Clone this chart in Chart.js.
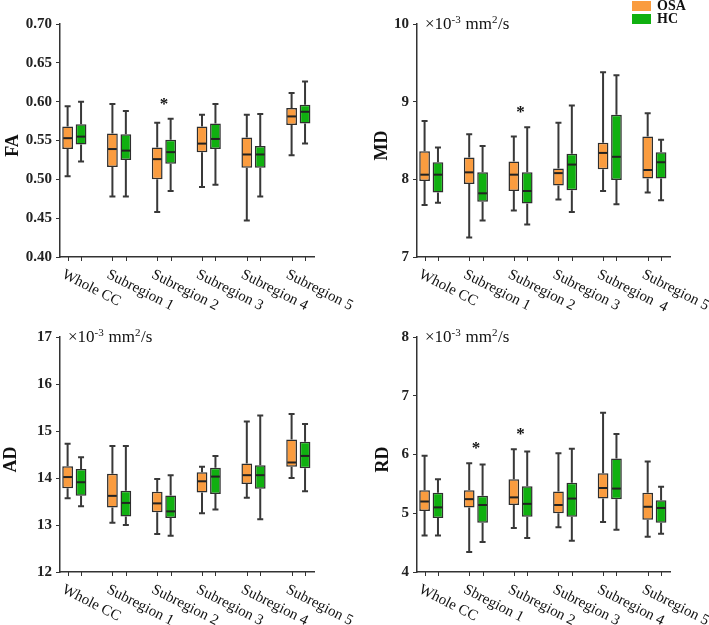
<!DOCTYPE html>
<html><head><meta charset="utf-8">
<script src="https://cdn.jsdelivr.net/npm/chart.js@4/dist/chart.umd.min.js"></script>
<style>
html,body{margin:0;padding:0;background:#fff;}
#wrap{position:relative;width:709px;height:625px;overflow:hidden;background:#fff;}
canvas{position:absolute;}
.lgt{position:absolute;font:bold 14px "Liberation Serif","Times New Roman",serif;color:#111;line-height:14px;}
.sw{position:absolute;width:19px;}
</style></head><body>
<div id="wrap">
<canvas id="cAD" width="370" height="315" style="left:0;top:310px"></canvas>
<canvas id="cRD" width="355" height="315" style="left:354px;top:310px"></canvas>
<canvas id="cFA" width="370" height="330" style="left:0;top:0"></canvas>
<canvas id="cMD" width="355" height="330" style="left:354px;top:0"></canvas>
</div>
<script>
// ---------- data ----------
const seriesNames = ['OSA', 'HC'];
const seriesColors = ['#FA9C3F', '#10B010'];

const catsFA = ['Whole CC', 'Subregion 1', 'Subregion 2', 'Subregion 3', 'Subregion 4', 'Subregion 5'];
const catsMD = ['Whole CC', 'Subregion 1', 'Subregion 2', 'Subregion 3', 'Subregion  4', 'Subregion 5'];
const catsAD = ['Whole CC', 'Subregion 1', 'Subregion 2', 'Subregion 3', 'Subregion 4', 'Subregion 5'];
const catsRD = ['Whole CC', 'Sbregion 1', 'Subregion 2', 'Subregion 3', 'Subregion 4', 'Subregion 5'];

// each entry: [min, q1, median, q3, max]
const faOSA = [[0.504,0.539,0.553,0.568,0.594],[0.478,0.516,0.539,0.559,0.597],[0.458,0.500,0.526,0.541,0.573],[0.490,0.535,0.546,0.568,0.583],[0.447,0.515,0.532,0.554,0.583],[0.531,0.570,0.581,0.592,0.611]];
const faHC  = [[0.523,0.545,0.555,0.571,0.600],[0.478,0.525,0.537,0.558,0.588],[0.485,0.520,0.535,0.551,0.578],[0.493,0.539,0.552,0.572,0.597],[0.478,0.515,0.532,0.543,0.584],[0.546,0.572,0.587,0.596,0.626]];
const mdOSA = [[7.67,7.98,8.06,8.36,8.75],[7.25,7.94,8.09,8.28,8.58],[7.60,7.85,8.06,8.23,8.55],[7.74,7.92,8.08,8.14,8.73],[7.85,8.13,8.34,8.47,9.38],[7.83,8.01,8.12,8.55,8.85]];
const mdHC  = [[7.70,7.83,8.06,8.22,8.41],[7.47,7.71,7.82,8.09,8.43],[7.42,7.69,7.85,8.09,8.67],[7.58,7.86,8.19,8.33,8.95],[7.68,7.99,8.29,8.83,9.34],[7.73,8.01,8.22,8.35,8.51]];
const adOSA = [[13.57,13.78,14.02,14.25,14.73],[13.05,13.37,13.62,14.09,14.68],[12.81,13.27,13.46,13.71,13.98],[13.25,13.69,13.93,14.12,14.24],[13.58,13.87,14.06,14.31,15.20],[14.00,14.24,14.33,14.82,15.36]];
const adHC  = [[13.40,13.62,13.91,14.19,14.44],[13.00,13.18,13.47,13.73,14.68],[12.77,13.15,13.29,13.63,14.06],[13.33,13.66,14.03,14.22,14.47],[13.12,13.77,14.06,14.27,15.33],[13.72,14.21,14.47,14.77,15.15]];
const rdOSA = [[4.62,5.04,5.20,5.39,5.98],[4.34,5.10,5.24,5.39,5.85],[4.75,5.14,5.27,5.58,6.09],[4.76,5.00,5.14,5.37,6.02],[4.85,5.25,5.43,5.68,6.71],[4.60,4.89,5.11,5.35,5.88]];
const rdHC  = [[4.62,4.92,5.10,5.35,5.58],[4.51,4.84,5.14,5.30,5.83],[4.58,4.94,5.16,5.46,6.05],[4.53,4.94,5.25,5.52,6.10],[4.72,5.24,5.42,5.93,6.35],[4.65,4.84,5.09,5.22,5.45]];

const ticksFA = [0.40, 0.45, 0.50, 0.55, 0.60, 0.65, 0.70];
const ticksMD = [7, 8, 9, 10];
const ticksAD = [12, 13, 14, 15, 16, 17];
const ticksRD = [4, 5, 6, 7, 8];

// categories marked with * (significant difference)
const sigFA = [2];
const sigMD = [2];
const sigAD = [];
const sigRD = [1, 2];

// ---------- drawing ----------
const SERIF = '"Liberation Serif","Times New Roman",serif';
Chart.defaults.font.family = SERIF;
Chart.defaults.color = '#222';

const boxPlugin = {
  id: 'boxParts',
  afterDatasetsDraw(chart) {
    const ys = chart.scales.y, ctx = chart.ctx;
    ctx.save();
    chart.data.datasets.forEach((ds, di) => {
      const meta = chart.getDatasetMeta(di);
      meta.data.forEach((bar, i) => {
        const s = ds.stats[i];
        const x = bar.x, hw = bar.width / 2;
        const pMin = ys.getPixelForValue(s[0]), pQ1 = ys.getPixelForValue(s[1]);
        const pMed = ys.getPixelForValue(s[2]), pQ3 = ys.getPixelForValue(s[3]);
        const pMax = ys.getPixelForValue(s[4]);
        ctx.strokeStyle = '#383838';
        ctx.lineWidth = 2;
        ctx.beginPath();
        ctx.moveTo(x, pQ3); ctx.lineTo(x, pMax);
        ctx.moveTo(x, pQ1); ctx.lineTo(x, pMin);
        ctx.moveTo(x - 3, pMax); ctx.lineTo(x + 3, pMax);
        ctx.moveTo(x - 3, pMin); ctx.lineTo(x + 3, pMin);
        ctx.stroke();
        ctx.strokeStyle = '#222';
        ctx.beginPath();
        ctx.moveTo(x - hw + 1, pMed); ctx.lineTo(x + hw - 1, pMed);
        ctx.stroke();
      });
    });
    ctx.restore();
  },
  afterDraw(chart) {
    const ctx = chart.ctx, xs = chart.scales.x, ys = chart.scales.y;
    const area = chart.chartArea;
    const o = chart.options.plugins.panel;
    ctx.save();
    // tick marks under each box
    ctx.strokeStyle = '#333'; ctx.lineWidth = 1;
    chart.data.datasets.forEach((ds, di) => {
      chart.getDatasetMeta(di).data.forEach(bar => {
        const xx = Math.round(bar.x) + 0.5;
        ctx.beginPath(); ctx.moveTo(xx, area.bottom); ctx.lineTo(xx, area.bottom + 4); ctx.stroke();
      });
    });
    // rotated category labels
    ctx.fillStyle = '#111';
    ctx.font = '15px ' + SERIF;
    ctx.textAlign = 'left'; ctx.textBaseline = 'top';
    o.cats.forEach((lab, i) => {
      ctx.save();
      ctx.translate(xs.getPixelForValue(i) - 8, area.bottom + 10);
      ctx.rotate(27 * Math.PI / 180);
      ctx.fillText(lab, 0, 0);
      ctx.restore();
    });
    // y axis title
    ctx.save();
    ctx.font = 'bold 18px ' + SERIF;
    ctx.textAlign = 'center'; ctx.textBaseline = 'middle';
    ctx.translate(o.titleX, (area.top + area.bottom) / 2 + 5);
    ctx.rotate(-Math.PI / 2);
    ctx.fillText(o.title, 0, 0);
    ctx.restore();
    // significance asterisks
    ctx.font = 'bold 17px ' + SERIF;
    ctx.textAlign = 'center'; ctx.textBaseline = 'alphabetic';
    o.sig.forEach(i => {
      let top = Infinity;
      chart.data.datasets.forEach(ds => { top = Math.min(top, ys.getPixelForValue(ds.stats[i][4])); });
      ctx.fillText('*', xs.getPixelForValue(i), top - 10);
    });
    // unit label
    if (o.unit) {
      let x = area.left + 8;
      const base = area.top + 5;
      const parts = [['\u00d710', 0], ['-3', 1], [' mm', 0], ['2', 1], ['/s', 0]];
      ctx.textAlign = 'left';
      parts.forEach(([t, sup]) => {
        ctx.font = (sup ? '11px ' : '17px ') + SERIF;
        ctx.fillText(t, x, sup ? base - 6 : base);
        x += ctx.measureText(t).width + (sup ? 0.5 : 0);
      });
    }
    ctx.restore();
  }
};

function makePanel(id, cfg) {
  const datasets = [cfg.osa, cfg.hc].map((stats, k) => ({
    label: seriesNames[k],
    data: stats.map((s, i) => ({ x: i, y: [s[1], s[3]] })),
    stats: stats,
    backgroundColor: seriesColors[k],
    borderColor: '#2e2e2e',
    borderWidth: 1.5,
    borderSkipped: false,
    categoryPercentage: 0.6,
    barPercentage: 0.8
  }));
  return new Chart(document.getElementById(id), {
    type: 'bar',
    data: { datasets },
    plugins: [boxPlugin],
    options: {
      responsive: false,
      animation: false,
      events: [],
      layout: { padding: cfg.pad },
      plugins: {
        legend: { display: false },
        tooltip: { enabled: false },
        panel: { cats: cfg.cats, sig: cfg.sig, unit: cfg.unit, title: cfg.title, titleX: cfg.titleX }
      },
      scales: {
        x: {
          type: 'linear', min: -0.32, max: 5.35, offset: false,
          afterBuildTicks: s => { s.ticks = cfg.cats.map((_, i) => ({ value: i })); },
          ticks: { display: false },
          grid: { display: false },
          border: { display: true, color: '#333', width: 1.5 },
          afterFit: s => { s.height = cfg.xH; }
        },
        y: {
          min: cfg.ticks[0], max: cfg.ticks[cfg.ticks.length - 1],
          afterBuildTicks: s => { s.ticks = cfg.ticks.map(v => ({ value: v })); },
          ticks: {
            font: { size: 15, weight: 'bold' }, color: '#222', padding: 4,
            callback: v => v.toFixed(cfg.dec)
          },
          grid: { drawOnChartArea: false, drawTicks: true, tickLength: 4, color: '#333' },
          border: { display: true, color: '#333', width: 1.5 },
          title: { display: false },
          afterFit: s => { s.width = cfg.yW; }
        }
      }
    }
  });
}

makePanel('cFA', { cats: catsFA, osa: faOSA, hc: faHC, ticks: ticksFA, dec: 2, title: 'FA', unit: false, sig: sigFA,
  pad: { top: 24, right: 56, left: 0, bottom: 0 }, yW: 60, xH: 73, titleX: 13 });
makePanel('cMD', { cats: catsMD, osa: mdOSA, hc: mdHC, ticks: ticksMD, dec: 0, title: 'MD', unit: true, sig: sigMD,
  pad: { top: 24, right: 39, left: 0, bottom: 0 }, yW: 63, xH: 73, titleX: 28 });
makePanel('cAD', { cats: catsAD, osa: adOSA, hc: adHC, ticks: ticksAD, dec: 0, title: 'AD', unit: true, sig: sigAD,
  pad: { top: 27, right: 56, left: 0, bottom: 0 }, yW: 60, xH: 53, titleX: 11 });
makePanel('cRD', { cats: catsRD, osa: rdOSA, hc: rdHC, ticks: ticksRD, dec: 0, title: 'RD', unit: true, sig: sigRD,
  pad: { top: 27, right: 39, left: 0, bottom: 0 }, yW: 63, xH: 53, titleX: 29 });

// legend (real text)
const wrap = document.getElementById('wrap');
seriesNames.forEach((name, k) => {
  const sw = document.createElement('div');
  sw.className = 'sw';
  sw.style.left = '632px'; sw.style.top = (1 + k * 13) + 'px'; sw.style.height = '10px';
  sw.style.background = seriesColors[k];
  wrap.appendChild(sw);
  const t = document.createElement('div');
  t.className = 'lgt';
  t.style.left = '657px'; t.style.top = (-1 + k * 13) + 'px';
  t.textContent = name;
  wrap.appendChild(t);
});
</script>
</body></html>
